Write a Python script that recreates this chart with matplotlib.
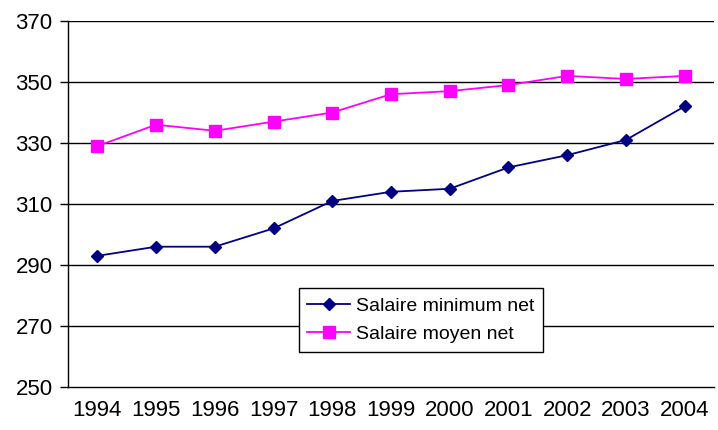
import matplotlib
matplotlib.use("Agg")
import matplotlib.pyplot as plt

years = ["1994", "1995", "1996", "1997", "1998", "1999", "2000", "2001", "2002", "2003", "2004"]
salaire_min = [293, 296, 296, 302, 311, 314, 315, 322, 326, 331, 342]
salaire_moyen = [329, 336, 334, 337, 340, 346, 347, 349, 352, 351, 352]
yticks = [250, 270, 290, 310, 330, 350, 370]

plt.rcParams['font.family'] = ['Liberation Sans', 'DejaVu Sans']

fig = plt.figure(figsize=(7.18, 4.30), dpi=100)
ax = fig.add_axes([68/718, 43/430, 646/718, 366/430])

x = list(range(len(years)))
ax.plot(x, salaire_min, color='#000080', marker='D', markersize=6.5, linewidth=1.3,
        label='Salaire minimum net')
ax.plot(x, salaire_moyen, color='#FF00FF', marker='s', markersize=8, linewidth=1.3,
        label='Salaire moyen net')

ax.set_xlim(-0.5, len(years) - 0.5)
ax.set_ylim(250, 370)
ax.set_yticks(yticks)
ax.set_yticklabels([str(v) for v in yticks], fontsize=16)
ax.set_xticks(x)
ax.set_xticklabels(years, fontsize=16)
ax.tick_params(axis='x', length=0, pad=9)
ax.tick_params(axis='y', length=6, width=1, pad=5, direction='out')

for v in yticks[1:]:
    ax.axhline(v, color='black', linewidth=1, zorder=0)

for s in ['top', 'right']:
    ax.spines[s].set_visible(False)
ax.spines['left'].set_linewidth(1)
ax.spines['bottom'].set_linewidth(1)

leg = ax.legend(loc='lower left', bbox_to_anchor=(0.357, 0.096),
                fontsize=14, frameon=True, fancybox=False, framealpha=1,
                edgecolor='black', handlelength=2.2, borderpad=0.45,
                labelspacing=0.55, handletextpad=0.3, borderaxespad=0)
leg.get_frame().set_linewidth(1)

fig.savefig('out.png', dpi=100)
